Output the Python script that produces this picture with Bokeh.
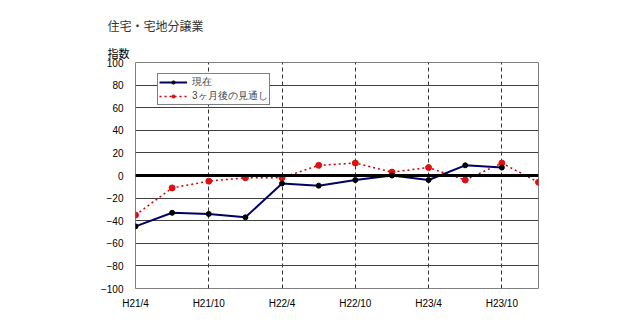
from bokeh.plotting import figure
from bokeh.models import FixedTicker, Span, Legend, LegendItem, Title, Range1d
from bokeh.embed import file_html
from bokeh.resources import INLINE

title_text = "住宅・宅地分譲業"
y_title = "指数"
quarters = ["H21/4", "H21/7", "H21/10", "H22/1", "H22/4", "H22/7",
            "H22/10", "H23/1", "H23/4", "H23/7", "H23/10", "H24/1"]
current = [-45, -33, -34, -37, -7, -9, -4, 0, -4, 9, 7]
outlook = [-35, -11, -5, -2, -2, 9, 11, 3, 7, -4, 11, -6]
series_names = ["現在", "3ヶ月後の見通し"]
y_ticks = list(range(-100, 101, 20))

JP = "Noto Sans CJK JP"
NUM = "Liberation Sans"

p = figure(width=640, height=335, output_backend="svg", toolbar_location=None,
           x_range=Range1d(0, len(quarters) - 1), y_range=Range1d(-100, 100),
           min_border_left=135, min_border_right=102, min_border_top=62,
           min_border_bottom=47)
p.title.text = ""
p.title.visible = False
p.background_fill_color = "white"
p.border_fill_color = "white"
p.outline_line_color = "#808080"
p.outline_line_width = 1

# axes
p.yaxis.ticker = FixedTicker(ticks=y_ticks)
p.xaxis.ticker = FixedTicker(ticks=list(range(0, len(quarters), 2)))
p.xaxis.major_label_overrides = {i: quarters[i] for i in range(0, len(quarters), 2)}
for ax in (p.xaxis, p.yaxis):
    ax.axis_line_color = None
    ax.major_tick_line_color = None
    ax.minor_tick_line_color = None
    ax.major_label_text_font = NUM
    ax.major_label_text_font_size = "10px"
    ax.major_label_text_color = "black"
p.yaxis.major_label_standoff = 6
p.xaxis.major_label_standoff = 3

# grids
p.ygrid.ticker = FixedTicker(ticks=y_ticks)
p.ygrid.grid_line_color = "#404040"
p.ygrid.grid_line_width = 1
p.xgrid.ticker = FixedTicker(ticks=list(range(2, len(quarters) - 1, 2)))
p.xgrid.grid_line_color = "#333333"
p.xgrid.grid_line_dash = "4 3"
p.xgrid.grid_line_width = 1

p.add_layout(Span(location=0, dimension="width", line_color="black", line_width=3))

xs_cur = list(range(len(current)))
xs_out = list(range(len(outlook)))

r_out_line = p.line(xs_out, outlook, line_color="#cc0000", line_width=1.5, line_dash="2 3")
r_out_pts = p.scatter(xs_out, outlook, size=6, fill_color="#dd1111", line_color="#dd1111")
r_cur_line = p.line(xs_cur, current, line_color="#000066", line_width=2)
r_cur_pts = p.scatter(xs_cur, current, size=5, fill_color="black", line_color="black")

legend = Legend(items=[
    LegendItem(label=series_names[0], renderers=[r_cur_line, r_cur_pts]),
    LegendItem(label=series_names[1], renderers=[r_out_line, r_out_pts]),
], location=(22, 183))
legend.label_text_font = NUM
legend.label_text_font_size = "10px"
legend.label_height = 8
legend.glyph_height = 8
legend.glyph_width = 28
legend.label_standoff = 5
legend.spacing = 0
legend.padding = 1
legend.margin = 0
legend.border_line_color = "black"
legend.border_line_width = 1
legend.background_fill_color = "white"
legend.background_fill_alpha = 1
p.add_layout(legend)

p.add_layout(Title(text=y_title, align="left", offset=-28, standoff=3,
                   text_font=JP, text_font_size="11px", text_font_style="normal",
                   text_color="black"), "above")
p.add_layout(Title(text=title_text, align="left", offset=-28, standoff=16,
                   text_font=JP, text_font_size="12px", text_font_style="normal",
                   text_color="#333333"), "above")

open("out.html", "w").write(file_html(p, INLINE))
